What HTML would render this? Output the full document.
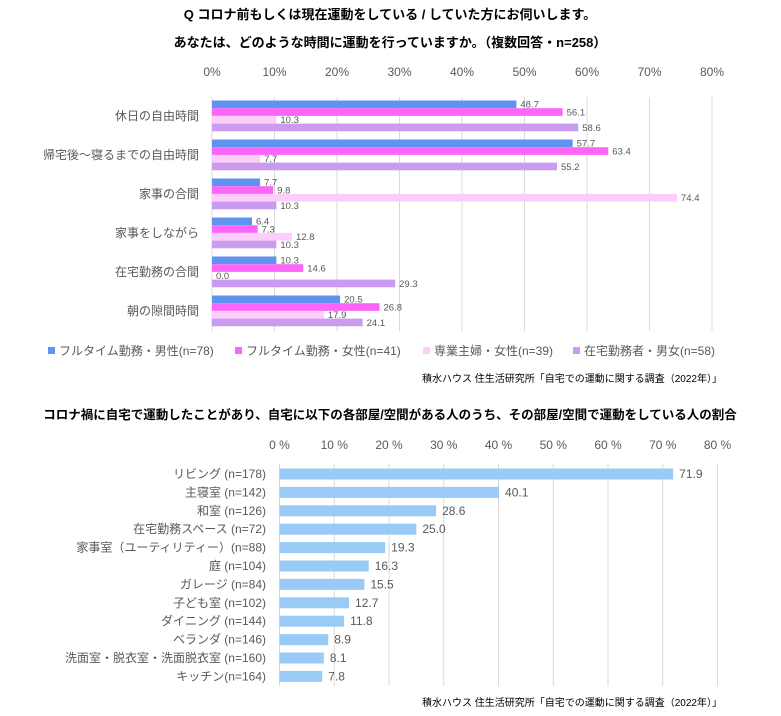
<!DOCTYPE html>
<html><head><meta charset="utf-8"><style>
body{margin:0;background:#fff;width:781px;height:716px;overflow:hidden}
svg{display:block;font-family:"Liberation Sans","Noto Sans CJK JP",sans-serif}
</style></head><body>
<svg id="s" width="781" height="716"></svg>
<script>
const cats1=["休日の自由時間","帰宅後～寝るまでの自由時間","家事の合間","家事をしながら","在宅勤務の合間","朝の隙間時間"];
const seriesNames=["フルタイム勤務・男性(n=78)","フルタイム勤務・女性(n=41)","専業主婦・女性(n=39)","在宅勤務者・男女(n=58)"];
const sMale=[48.7,57.7,7.7,6.4,10.3,20.5];
const sFemale=[56.1,63.4,9.8,7.3,14.6,26.8];
const sHouse=[10.3,7.7,74.4,12.8,0.0,17.9];
const sRemote=[58.6,55.2,10.3,10.3,29.3,24.1];
const ticks1=["0%","10%","20%","30%","40%","50%","60%","70%","80%"];
const cats2=["リビング (n=178)","主寝室 (n=142)","和室 (n=126)","在宅勤務スペース (n=72)","家事室（ユーティリティー）(n=88)","庭 (n=104)","ガレージ (n=84)","子ども室 (n=102)","ダイニング (n=144)","ベランダ (n=146)","洗面室・脱衣室・洗面脱衣室 (n=160)","キッチン(n=164)"];
const vals2=[71.9,40.1,28.6,25.0,19.3,16.3,15.5,12.7,11.8,8.9,8.1,7.8];
const ticks2=["0 %","10 %","20 %","30 %","40 %","50 %","60 %","70 %","80 %"];

const s=document.getElementById('s');
const NS="http://www.w3.org/2000/svg";
function el(t,a,txt){const e=document.createElementNS(NS,t);for(const k in a)e.setAttribute(k,a[k]);if(txt!=null)e.textContent=txt;s.appendChild(e);return e;}

// Titles
let e;
e=el('text',{x:390,y:19,'text-anchor':'middle','font-size':13,'font-weight':'bold',fill:'#000'},'Q コロナ前もしくは現在運動をしている / していた方にお伺いします。');

e=el('text',{x:390,y:47,'text-anchor':'middle','font-size':13,'font-weight':'bold',fill:'#000'},'あなたは、どのような時間に運動を行っていますか。（複数回答・n=258）');


// Chart 1
const x1=v=>212+v*6.25;
const top1=97,band1=39,bh=7.7;
ticks1.forEach((t,i)=>{
  const x=x1(i*10);
  e=el('line',{x1:x,x2:x,y1:top1,y2:331,stroke:'#d9d9d9','stroke-width':1});
  
  e=el('text',{x:x,y:76,'text-anchor':'middle','font-size':12,fill:'#595959'},t);
  
});
const colors=["#5f93ef","#fb66f8","#fdcdfb","#c99cf0"];
const series=[sMale,sFemale,sHouse,sRemote];
cats1.forEach((c,i)=>{
  const y0=top1+i*band1+3.5;
  e=el('text',{x:199,y:y0+bh*2+4,'text-anchor':'end','font-size':12,fill:'#595959'},c);
  
  series.forEach((sr,j)=>{
    const v=sr[i],y=y0+j*bh;
    e=el('rect',{x:x1(0),y:y,width:x1(v)-x1(0),height:bh,fill:colors[j]});
    
    e=el('text',{x:x1(v)+4,y:y+bh-0.5,'font-size':9.5,fill:'#595959'},v.toFixed(1));
    
  });
});
// legend
const lx=[48,235,423,573];
seriesNames.forEach((n,j)=>{
  e=el('rect',{x:lx[j],y:347,width:7,height:7,fill:colors[j]});
  
  e=el('text',{x:lx[j]+11,y:355,'font-size':12,fill:'#595959'},n);
  
});
e=el('text',{x:722,y:382,'text-anchor':'end','font-size':10,fill:'#000'},'積水ハウス 住生活研究所「自宅での運動に関する調査（2022年）」');


// Chart 2
e=el('text',{x:390,y:419,'text-anchor':'middle','font-size':12.5,'font-weight':'bold',fill:'#000'},'コロナ禍に自宅で運動したことがあり、自宅に以下の各部屋/空間がある人のうち、その部屋/空間で運動をしている人の割合');

const x2=v=>279.5+v*5.475;
const top2=464,band2=18.4,bh2=11;
ticks2.forEach((t,i)=>{
  const x=x2(i*10);
  e=el('line',{x1:x,x2:x,y1:top2,y2:686,stroke:'#d9d9d9','stroke-width':1});
  
  e=el('text',{x:x,y:449,'text-anchor':'middle','font-size':12,fill:'#595959'},t);
  
});
cats2.forEach((c,i)=>{
  const yc=top2+10+i*band2;
  e=el('rect',{x:x2(0),y:yc-bh2/2,width:x2(vals2[i])-x2(0),height:bh2,fill:'#99cbf6'});
  
  e=el('text',{x:266,y:yc+4,'text-anchor':'end','font-size':12,fill:'#595959'},c);
  
  e=el('text',{x:x2(vals2[i])+6,y:yc+4,'font-size':12,fill:'#595959'},vals2[i].toFixed(1));
  
});
e=el('text',{x:722,y:706,'text-anchor':'end','font-size':10,fill:'#000'},'積水ハウス 住生活研究所「自宅での運動に関する調査（2022年）」');

</script>
</body></html>
